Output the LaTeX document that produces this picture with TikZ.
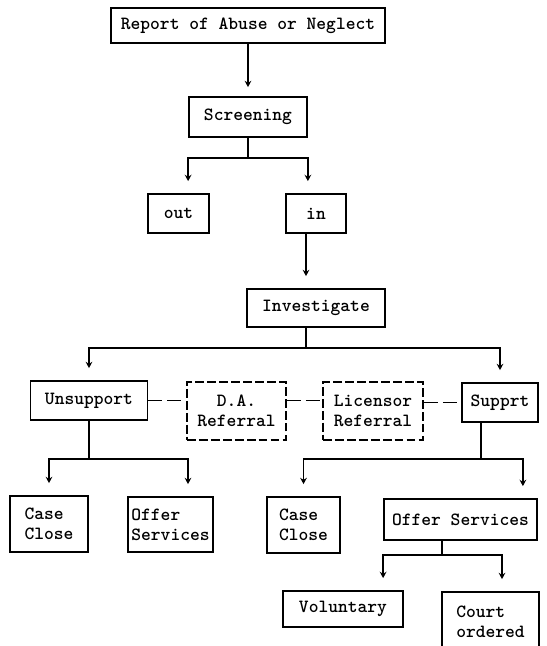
\documentclass[tikz,border=0pt]{standalone}
\usetikzlibrary{arrows.meta}
\tikzset{
	box/.style={draw, line width=1pt, inner sep=0pt, font=\ttfamily\fontseries{b}\fontsize{10.6}{11.5}\selectfont},
	refbox/.style={box, dash pattern=on 5pt off 1.8pt},
	line/.style={line width=1pt},
	arr/.style={line, -{Stealth[length=3.6pt,width=3.8pt]}, shorten >=2.4mm},
	link/.style={line, dash pattern=on 8pt off 2.8pt},
}

\begin{document}
\begin{tikzpicture}[x=0.2mm, y=-0.2mm]
	%%%%% START %%%%%
	\useasboundingbox (0,0) rectangle (546,646);
	
	\node[box, minimum width=54.8mm, minimum height=7mm] (report) at (248,25.5) {Report of Abuse or Neglect};
	\node[box, minimum width=23.6mm, minimum height=8mm] (screening) at (248,117) {Screening};
	
	\node[box, minimum width=12.2mm, minimum height=7.8mm] (out) at (178.5,213.5) {out};
	\node[box, minimum width=12mm, minimum height=7.8mm] (in) at (316,213.5) {in};
	
	\node[box, minimum width=27.6mm, minimum height=7.6mm] (investigate) at (316,308) {Investigate};
	
	\node[box, minimum width=23.4mm, minimum height=7.8mm] (unsupport) at (89,400.5) {Unsupport};
	\node[refbox, minimum width=19.8mm, minimum height=11.6mm, align=center] (da) at (236.5,411) {D.A.\\Referral};
	\node[refbox, minimum width=20mm, minimum height=11.6mm, align=left] (licensor) at (373,411) {Licensor\\Referral};
	\node[box, minimum width=15.2mm, minimum height=7.8mm] (supprt) at (500,402.5) {Supprt};
	
	\node[box, minimum width=15.6mm, minimum height=11.2mm, align=left] (close1) at (49,524) {Case\\Close};
	\node[box, minimum width=17mm, minimum height=11mm, align=left] (offer1) at (170.5,524.5) {Offer\\Services};
	\node[box, minimum width=14.6mm, minimum height=11.2mm, align=left] (close2) at (303.5,525) {Case\\Close};
	\node[box, minimum width=30.6mm, minimum height=8.2mm] (offer2) at (460.5,519.5) {Offer Services};
	
	\node[box, minimum width=24mm, minimum height=7.2mm] (voluntary) at (343,609) {Voluntary};
	\node[box, minimum width=19.4mm, minimum height=12mm, align=left] (court) at (490.5,622) {Court\\ordered};
	
	% report and screening
	\draw[arr, shorten >=1.8mm] (report.south) -- (screening.north);
	\draw[line] (screening.south) -- ++(0,20) coordinate (scr-split);
	\draw[arr] (scr-split) -| (out.north -| screening.west);
	\draw[arr] (scr-split) -| (in.north -| screening.east);
	
	% investigate
	\draw[arr] ([xshift=-2mm]in.south) -- ([xshift=-2mm]in.south |- investigate.north);
	\draw[line] ([xshift=-2mm]investigate.south) -- ++(0,20) coordinate (inv-split);
	\draw[arr] (inv-split) -| (unsupport.north);
	\draw[arr] (inv-split) -| (supprt.north);
	
	% referrals
	\draw[link] (unsupport.east) -- (unsupport.east -| da.west);
	\draw[link] (unsupport.east -| da.east) -- (unsupport.east -| licensor.west);
	\draw[link] (supprt.west -| licensor.east) -- (supprt.west);
	
	% unsupported
	\draw[line] (unsupport.south) -- ++(0,38) coordinate (uns-split);
	\draw[arr] (uns-split) -| (close1.north);
	\draw[arr] (uns-split) -| ([xshift=3.5mm]offer1.north);
	
	% supported
	\draw[line] ([xshift=-3.8mm]supprt.south) -- ++(0,36) coordinate (sup-split);
	\draw[arr] (sup-split) -| (close2.north);
	\draw[arr] (sup-split) -| ([xshift=-3mm]offer2.north east);
	
	% services
	\draw[line] ([xshift=-3.7mm]offer2.south) -- ++(0,14) coordinate (off-split);
	\draw[arr] (off-split) -| (voluntary.north -| offer2.west);
	\draw[arr] (off-split) -| ([xshift=2.3mm]court.north);
	
	%%%%% END %%%%%
\end{tikzpicture}
\end{document}
